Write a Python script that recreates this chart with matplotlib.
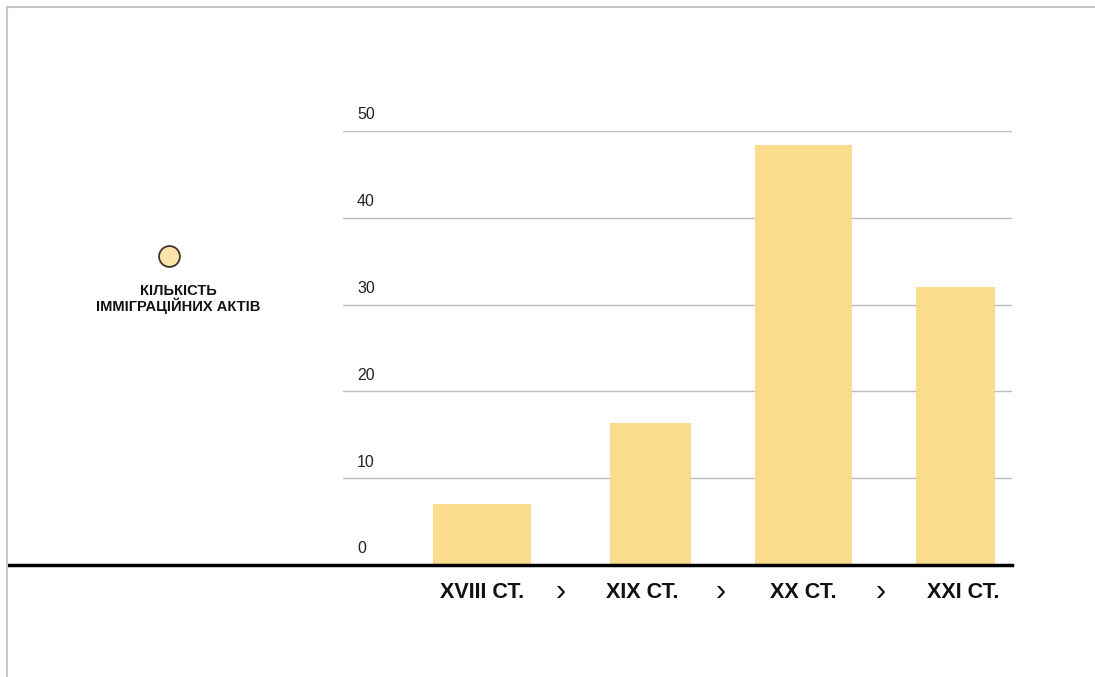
import matplotlib.pyplot as plt
from matplotlib.lines import Line2D

plt.rcParams['font.family'] = ['Liberation Sans', 'DejaVu Sans']

centuries = ['XVIII СТ.', 'XIX СТ.', 'XX СТ.', 'XXI СТ.']
acts = [7, 16.4, 48.4, 32]
yticks = [0, 10, 20, 30, 40, 50]
legend_label = 'КІЛЬКІСТЬ\nІММІГРАЦІЙНИХ АКТІВ'

# layout (axis fraction units)
xpos = [0.208, 0.459, 0.689, 0.915]
widths = [0.146, 0.121, 0.145, 0.118]
label_pos = [0.208, 0.448, 0.688, 0.927]
chev_pos = [0.326, 0.564, 0.803]
bar_color = '#fbdc8c'

fig = plt.figure(figsize=(10.95, 6.77), dpi=100)
ax = fig.add_axes([0.3132, 0.1654, 0.611, 0.641])

ax.bar(xpos, acts, width=widths, color=bar_color, zorder=2)
ax.set_xlim(0, 1)
ax.set_ylim(0, 50)

for v in yticks[1:]:
    ax.axhline(v, color='#bdbdbd', lw=1, zorder=1)
for v in yticks:
    ax.text(0.021, v + 1.0, str(v), fontsize=11.5, color='#222222',
            ha='left', va='bottom')

for sp in ax.spines.values():
    sp.set_visible(False)
ax.set_xticks([])
ax.set_yticks([])

# category labels + chevrons
for x, lab in zip(label_pos, centuries):
    ax.text(x, -3.2, lab, fontsize=15.5, fontweight='bold', ha='center',
            va='center', color='#111111')
for x in chev_pos:
    ax.text(x, -3.1, '›', fontsize=22, ha='center', va='center',
            color='#111111')

# black baseline running to the left edge
fig.add_artist(Line2D([8 / 1095, 1012 / 1095], [112 / 677, 112 / 677],
                      color='black', lw=2.5))

# frame lines top/left
fig.add_artist(Line2D([7 / 1095, 1], [1 - 7 / 677, 1 - 7 / 677],
                      color='#c8c8c8', lw=1.5))
fig.add_artist(Line2D([7 / 1095, 7 / 1095], [0, 1 - 7 / 677],
                      color='#c8c8c8', lw=1.5))

# legend
fig.add_artist(Line2D([169 / 1095], [1 - 256 / 677], marker='o',
                      markersize=15, markerfacecolor='#fde2ab',
                      markeredgecolor='#3d3528', markeredgewidth=1.3,
                      linestyle='none'))
fig.text(178 / 1095, 1 - 299 / 677, legend_label, fontsize=10.5,
         fontweight='bold', ha='center', va='center', linespacing=0.95,
         color='#111111')

plt.savefig('out.png', dpi=100)
